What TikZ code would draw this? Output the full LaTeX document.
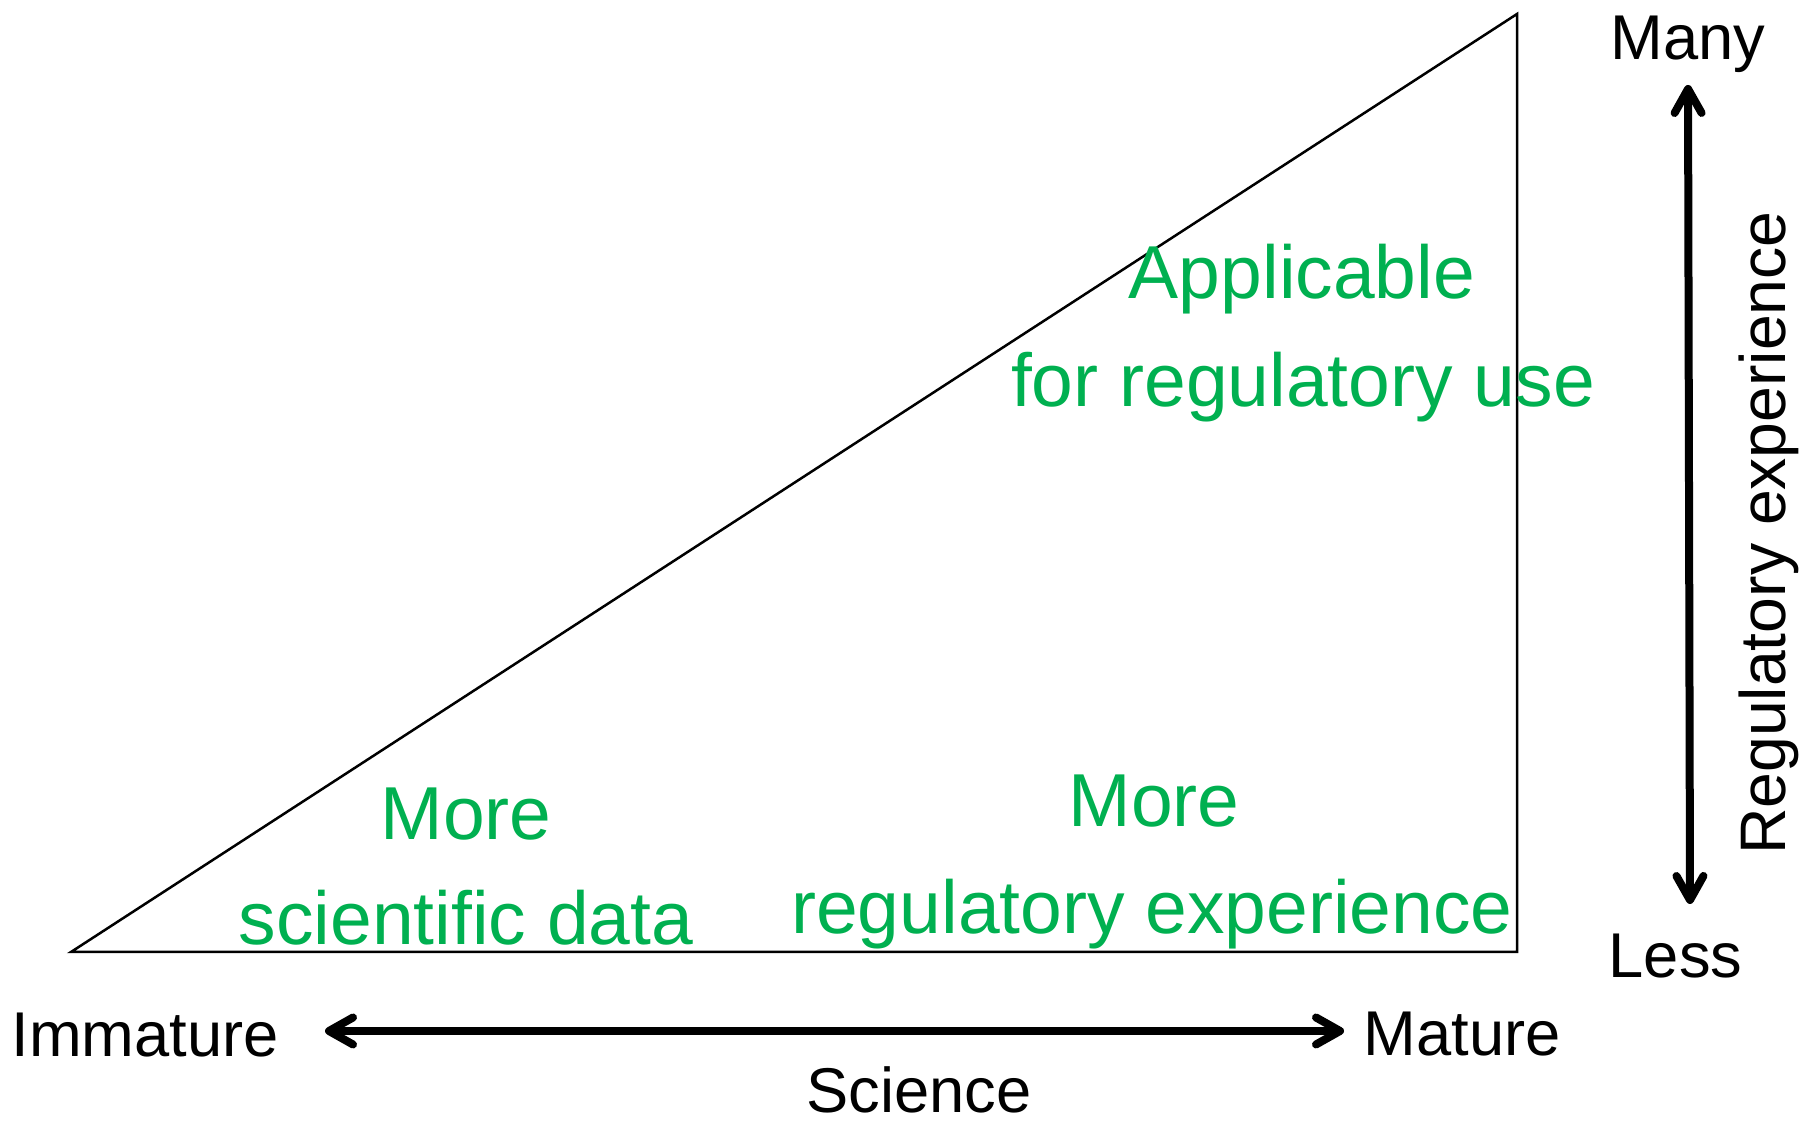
\documentclass[tikz,border=0pt]{standalone}
\usepackage{fontspec}
\setmainfont{Liberation Sans}
\usetikzlibrary{arrows.meta}
\definecolor{regreen}{HTML}{00B050}
\begin{document}
\begin{tikzpicture}[
    lab/.style={font=\fontsize{18pt}{21pt}\selectfont, anchor=base, inner sep=0pt},
    grn/.style={font=\fontsize{21.35pt}{25pt}\selectfont, text=regreen, anchor=base, inner sep=0pt},
    axis/.style={line width=0.8mm,
      {Straight Barb[length=2.4mm,width=2.7mm,round]}-{Straight Barb[length=2.4mm,width=2.7mm,round]}}]
  \useasboundingbox (0,0) rectangle (18.02,11.21);
  % triangle
  \coordinate (low) at (0.71,1.69);
  \coordinate (corner) at (15.17,1.69);
  \coordinate (top) at (15.17,11.07);
  \draw [line width=0.25mm] (low) -- (corner) -- (top) -- cycle;
  % axes
  \coordinate (sciL) at (3.25,0.90);
  \coordinate (sciR) at (13.44,0.90);
  \coordinate (regT) at (16.88,10.36);
  \coordinate (regB) at (16.90,2.17);
  \draw [axis] (sciL) -- (sciR);
  \draw [axis] (regT) -- (regB);
  % axis labels
  \node [lab, anchor=base west] (immature) at (0.11,0.64) {Immature};
  \node [lab, anchor=base west] (mature) at (13.63,0.65) {Mature};
  \node [lab] (science) at (9.19,0.08) {Science};
  \node [lab] (many) at (16.88,10.61) {Many};
  \node [lab, anchor=base west] (less) at (16.08,1.43) {Less};
  \node [lab, rotate=90, font=\fontsize{18.3pt}{21pt}\selectfont] (regexp) at (17.85,5.88) {Regulatory experience};
  % green texts
  \node [grn] (applic) at (13.02,8.22) {Applicable};
  \node [grn] (reguse) at (13.03,7.14) {for regulatory use};
  \node [grn] (moreL) at (4.66,2.81) {More};
  \node [grn] (scidata) at (4.66,1.76) {scientific data};
  \node [grn] (moreR) at (11.54,2.94) {More};
  \node [grn] (regexpg) at (11.52,1.87) {regulatory experience};
\end{tikzpicture}
\end{document}
